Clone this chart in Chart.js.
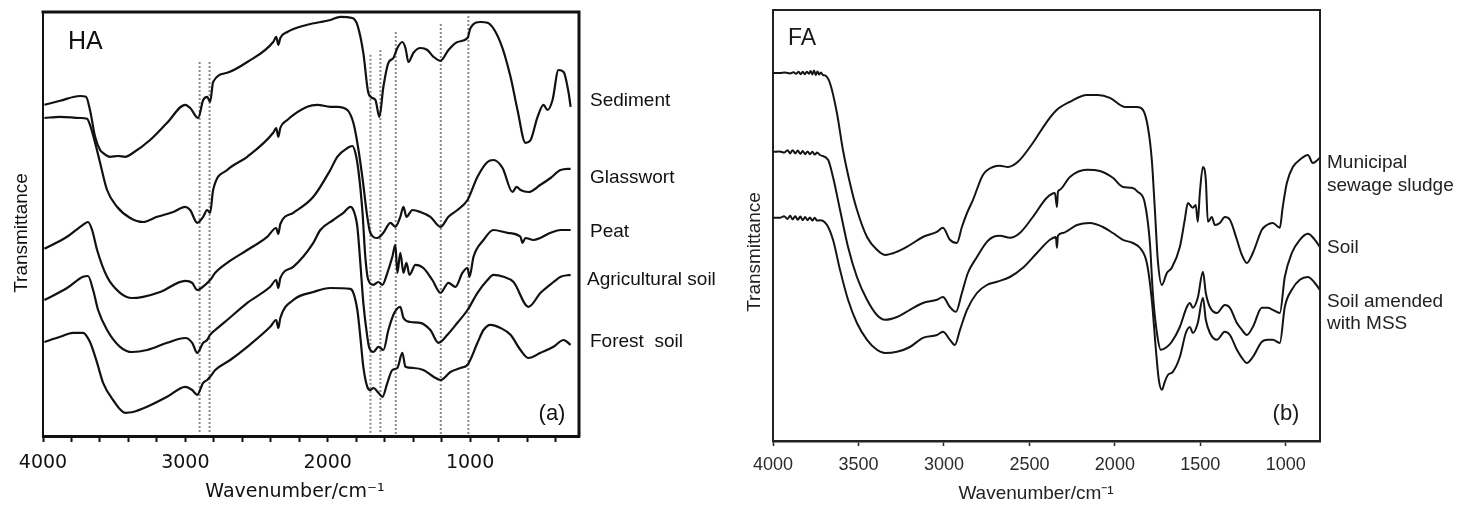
<!DOCTYPE html>
<html>
<head>
<meta charset="utf-8">
<title>FTIR spectra of humic (HA) and fulvic (FA) acids</title>
<script src="https://cdn.jsdelivr.net/npm/chart.js@4.4.1/dist/chart.umd.min.js"></script>
<style>
  html, body { margin: 0; padding: 0; background: #ffffff; }
  #wrap { position: relative; width: 1459px; height: 506px; overflow: hidden; background: #ffffff; }
  canvas { position: absolute; top: 0; }
  #haChart { left: 0; }
  #faChart { left: 730px; }
</style>
</head>
<body>
<div id="wrap">
  <canvas id="haChart" width="730" height="506"></canvas>
  <canvas id="faChart" width="729" height="506"></canvas>
</div>
<script>
// ---- Humic acids (HA): [wavenumber cm-1, offset transmittance (arb. units)] ----
const haSediment = [
  [3990,82.8],[3880,83.8],[3740,85.0],[3698,84.8],[3670,81.5],[3634,74.8],[3599,71.5],[3578,70.8],
  [3529,69.8],[3473,70.0],[3423,69.8],[3367,70.8],[3248,74.0],[3128,78.3],[3001,82.8],[2966,82.0],
  [2910,79.5],[2875,84.0],[2847,84.8],[2826,83.5],[2805,88.5],[2706,90.8],[2565,93.5],[2383,98.5],
  [2362,99.8],[2347,97.8],[2333,99.5],[2284,101.0],[2144,102.8],[1982,104.0],[1912,104.8],[1827,104.5],
  [1792,102.8],[1750,95.8],[1715,85.8],[1686,84.5],[1665,84.0],[1637,79.8],[1609,87.3],[1574,93.3],
  [1539,94.5],[1511,97.0],[1476,98.5],[1454,97.0],[1433,93.5],[1398,95.8],[1349,97.0],[1300,96.5],
  [1257,94.8],[1208,93.8],[1152,96.5],[1089,98.5],[1018,99.5],[997,102.0],[927,103.5],[878,103.3],
  [786,98.3],[716,89.8],[667,81.5],[611,73.3],[575,74.0],[526,79.8],[484,82.8],[456,81.5],
  [421,84.0],[379,91.5],[343,91.0],[308,85.8],[294,82.3]
];
const haGlasswort = [
  [3990,79.5],[3880,79.8],[3740,79.5],[3691,79.3],[3670,77.8],[3634,73.3],[3599,68.3],[3550,61.5],
  [3480,57.3],[3388,54.5],[3297,53.5],[3198,54.8],[3086,56.0],[3001,57.3],[2966,56.5],[2917,53.3],
  [2875,54.8],[2847,56.5],[2826,55.8],[2805,61.5],[2706,66.5],[2565,69.8],[2383,75.8],[2362,77.0],
  [2347,74.8],[2333,77.0],[2284,79.0],[2144,82.3],[2073,82.8],[1982,82.3],[1933,82.3],[1862,81.5],
  [1820,78.3],[1792,73.3],[1757,64.8],[1722,54.8],[1701,50.8],[1651,49.5],[1609,50.8],[1560,53.3],
  [1525,52.3],[1490,54.8],[1468,57.3],[1447,54.8],[1405,56.5],[1349,56.0],[1279,54.8],[1208,52.3],
  [1152,54.8],[1089,56.5],[1018,59.0],[948,64.8],[878,68.5],[836,69.0],[772,67.0],[702,61.0],
  [674,62.3],[646,61.5],[590,61.0],[505,62.8],[435,64.5],[364,66.5],[294,66.8]
];
const haPeat = [
  [3990,46.8],[3831,49.8],[3719,52.8],[3684,53.5],[3655,51.5],[3620,46.5],[3550,39.8],[3459,35.8],
  [3374,34.5],[3297,34.8],[3177,36.0],[3001,38.8],[2952,38.3],[2917,36.5],[2861,37.8],[2826,39.0],
  [2790,40.8],[2706,43.3],[2565,46.5],[2425,49.8],[2362,52.0],[2347,50.5],[2333,53.0],[2242,55.8],
  [2101,59.8],[1982,66.5],[1933,69.8],[1862,72.0],[1827,72.5],[1806,70.8],[1785,66.5],[1757,56.5],
  [1736,44.8],[1715,39.0],[1679,37.8],[1644,38.5],[1616,37.8],[1581,40.8],[1546,44.8],[1525,47.8],
  [1511,40.8],[1490,45.8],[1468,40.8],[1447,43.3],[1426,40.3],[1384,42.8],[1328,42.0],[1265,39.0],
  [1208,35.8],[1152,38.3],[1103,37.3],[1054,40.8],[1018,42.0],[1004,39.8],[976,44.8],[906,49.0],
  [836,51.5],[737,50.8],[646,49.8],[632,48.3],[611,49.5],[554,49.0],[435,50.8],[364,51.5],[294,51.5]
];
const haAgricultural = [
  [3990,34.0],[3831,37.0],[3719,39.8],[3684,40.0],[3648,36.5],[3613,31.5],[3550,26.5],[3459,22.3],
  [3374,21.0],[3269,21.5],[3128,23.3],[3001,24.5],[2952,23.3],[2917,20.8],[2875,23.3],[2847,24.0],
  [2826,25.3],[2790,26.5],[2706,29.0],[2565,33.3],[2404,37.3],[2362,39.0],[2347,37.0],[2333,39.5],
  [2242,42.3],[2101,48.3],[2052,51.5],[1961,54.0],[1890,55.8],[1841,57.3],[1820,56.5],[1792,52.3],
  [1771,43.3],[1750,33.3],[1722,24.8],[1708,22.0],[1679,21.0],[1644,22.3],[1609,21.5],[1574,26.5],
  [1532,30.8],[1490,32.3],[1468,29.5],[1419,28.5],[1349,28.3],[1279,26.5],[1222,23.3],[1159,25.3],
  [1089,28.3],[1018,31.5],[948,35.8],[878,39.0],[836,40.3],[765,39.8],[695,38.5],[590,32.3],
  [505,35.8],[414,38.5],[364,39.8],[294,40.3]
];
const haForest = [
  [3990,23.5],[3880,24.8],[3789,25.8],[3719,25.8],[3670,23.5],[3620,18.3],[3578,13.3],[3508,9.0],
  [3423,5.8],[3367,6.0],[3269,7.3],[3128,9.8],[3001,12.3],[2952,11.5],[2917,10.3],[2875,13.3],
  [2847,14.0],[2826,14.8],[2790,16.5],[2685,19.0],[2565,22.3],[2404,27.3],[2362,29.0],[2347,27.0],
  [2333,29.5],[2242,34.0],[2101,36.0],[1982,37.0],[1841,36.8],[1820,35.8],[1792,31.5],[1771,24.8],
  [1750,17.3],[1722,12.3],[1701,11.5],[1679,12.0],[1644,10.8],[1616,9.8],[1581,13.3],[1546,16.5],
  [1511,17.0],[1476,20.8],[1454,17.3],[1398,17.0],[1328,16.5],[1257,14.8],[1208,14.0],[1138,16.0],
  [1068,17.0],[1018,17.8],[948,23.3],[906,26.5],[857,27.8],[786,27.0],[716,25.3],[646,21.5],
  [590,19.5],[505,20.8],[414,22.3],[343,24.0],[294,22.8]
];
// band markers (dotted guides) and the height each one starts from
const haMarkerWavenumbers = [2900, 2830, 1700, 1630, 1522, 1206, 1012];
const haMarkerTops = [93.5, 93.5, 95.3, 96.5, 101.0, 103.0, 105.0];
const haTickValues = [4000,3800,3600,3400,3200,3000,2800,2600,2400,2200,2000,1800,1600,1400,1200,1000,800,600,400];
const haTickLabels = [4000, 3000, 2000, 1000];
const haSeriesNames = ['Sediment', 'Glasswort', 'Peat', 'Agricultural soil', 'Forest  soil'];

// ---- Fulvic acids (FA): [wavenumber cm-1, offset transmittance (arb. units)] ----
const faSludge = [
  [4000,92.0],[3960,92.0],[3930,92.1],[3900,91.9],[3880,92.2],[3865,91.8],[3850,92.3],[3838,91.7],
  [3826,92.3],[3814,91.7],[3802,92.3],[3790,91.8],[3780,92.5],[3770,91.6],[3760,92.6],[3750,91.5],
  [3740,92.4],[3730,91.6],[3720,92.1],[3708,91.5],[3696,91.4],
  [3667,89.5],[3626,82.0],[3591,72.8],[3550,64.5],[3509,57.8],[3450,51.0],[3392,47.8],[3345,46.5],
  [3275,47.3],[3199,49.0],[3123,51.0],[3041,52.3],[3006,53.3],[2965,50.3],[2924,49.5],[2895,53.5],
  [2865,57.0],[2830,60.3],[2772,66.5],[2713,68.5],[2672,68.8],[2626,68.5],[2567,69.8],[2480,74.5],
  [2398,79.8],[2339,82.8],[2263,84.8],[2164,86.5],[2099,86.5],[2029,85.8],[1942,83.5],[1871,83.5],
  [1836,82.8],[1807,78.5],[1784,70.3],[1766,57.8],[1749,45.3],[1725,39.0],[1696,42.0],[1667,43.3],
  [1620,48.5],[1591,55.3],[1573,59.5],[1544,58.3],[1527,59.0],[1515,54.8],[1503,62.0],[1485,68.5],
  [1468,65.3],[1456,54.8],[1433,56.0],[1415,54.0],[1386,54.5],[1357,56.0],[1327,55.3],[1286,50.3],
  [1257,46.5],[1228,44.5],[1193,47.0],[1140,52.8],[1111,54.0],[1076,54.5],[1035,53.3],[1018,58.5],
  [994,64.5],[959,68.5],[918,70.3],[871,71.5],[842,69.5],[813,70.3],[801,70.8]
];
const faSoil = [
  [4000,72.3],[3960,72.4],[3935,72.1],[3915,72.7],[3900,71.9],[3885,72.7],[3870,71.9],[3855,72.6],
  [3840,71.8],[3826,72.5],[3812,71.7],[3798,72.4],[3784,71.7],[3770,72.3],[3756,71.6],[3742,72.1],
  [3725,71.5],[3678,70.3],[3649,66.0],
  [3608,57.8],[3561,48.5],[3509,41.0],[3450,35.3],[3392,31.5],[3345,30.3],[3275,31.0],[3199,32.8],
  [3123,34.5],[3041,35.3],[3006,36.0],[2965,33.5],[2930,32.3],[2895,37.0],[2860,42.0],[2807,46.0],
  [2749,49.8],[2713,51.0],[2672,51.3],[2614,50.8],[2556,52.0],[2480,56.0],[2398,60.8],[2351,62.0],
  [2339,58.5],[2333,62.3],[2322,62.8],[2263,66.0],[2164,67.8],[2088,67.5],[2012,65.8],[1953,63.5],
  [1901,63.3],[1866,62.3],[1825,59.5],[1795,49.5],[1778,37.0],[1754,27.0],[1731,22.8],[1696,23.5],
  [1667,24.8],[1620,28.5],[1579,33.5],[1561,34.5],[1544,33.3],[1515,35.8],[1485,42.3],[1468,37.0],
  [1444,33.5],[1403,32.0],[1357,34.0],[1327,33.3],[1286,29.5],[1257,27.8],[1228,26.5],[1193,28.5],
  [1140,33.3],[1105,33.3],[1076,32.8],[1035,32.0],[1006,41.0],[965,47.0],[918,50.3],[871,51.8],
  [830,50.3],[801,48.5]
];
const faAmended = [
  [4000,55.8],[3960,55.8],[3935,56.2],[3915,55.5],[3900,56.3],[3885,55.4],[3870,56.2],[3855,55.3],
  [3840,56.1],[3826,55.2],[3812,56.0],[3798,55.2],[3784,55.9],[3770,55.1],[3756,55.8],[3742,55.1],
  [3725,55.2],[3684,54.0],[3649,50.3],
  [3608,42.8],[3561,35.3],[3509,29.5],[3450,25.3],[3392,22.8],[3345,22.0],[3275,22.3],[3199,23.5],
  [3123,25.8],[3041,26.5],[3006,27.3],[2965,25.3],[2936,24.0],[2906,27.8],[2865,32.8],[2807,37.0],
  [2749,39.0],[2690,39.8],[2614,41.0],[2538,43.3],[2456,47.0],[2380,50.3],[2345,51.0],[2339,48.3],
  [2333,51.3],[2304,52.0],[2222,54.0],[2146,54.5],[2070,53.5],[2012,52.0],[1953,50.3],[1895,49.5],
  [1854,48.3],[1813,44.5],[1784,35.3],[1760,22.8],[1743,15.3],[1725,12.8],[1708,14.8],[1690,16.5],
  [1661,17.3],[1620,21.0],[1585,27.0],[1561,28.5],[1544,27.0],[1515,29.5],[1485,35.8],[1468,30.3],
  [1444,27.0],[1403,25.3],[1357,27.3],[1327,26.5],[1286,22.8],[1257,20.8],[1228,19.5],[1193,21.0],
  [1140,24.8],[1105,25.3],[1076,25.3],[1035,24.5],[1006,33.5],[965,37.8],[918,40.3],[871,41.0],
  [830,39.5],[801,37.8]
];
const faTickValues = [4000, 3500, 3000, 2500, 2000, 1500, 1000];
const faSeriesNames = [['Municipal', 'sewage sludge'], ['Soil'], ['Soil amended', 'with MSS']];

// ---- helpers ----
const toXY = pts => pts.map(([x, y]) => ({ x, y }));

function spectrum(label, pts, width, color) {
  return {
    label,
    data: toXY(pts),
    borderColor: color,
    borderWidth: width,
    pointRadius: 0,
    fill: false,
    cubicInterpolationMode: 'monotone',
    order: 0
  };
}

// draws the top and right edges of the frame around the plot area
function framePlugin(width, color) {
  return {
    id: 'panelFrame',
    afterDraw(chart) {
      const { ctx, chartArea: a } = chart;
      ctx.save();
      ctx.strokeStyle = color;
      ctx.lineWidth = width;
      ctx.lineCap = 'square';
      ctx.beginPath();
      ctx.moveTo(a.left, a.top);
      ctx.lineTo(a.right, a.top);
      ctx.lineTo(a.right, a.bottom);
      ctx.stroke();
      ctx.restore();
    }
  };
}

// panel captions, axis titles and curve names
function textPlugin(items) {
  return {
    id: 'panelText',
    afterDraw(chart) {
      const ctx = chart.ctx;
      items.forEach(t => {
        ctx.save();
        ctx.font = t.font;
        ctx.fillStyle = t.color || '#111';
        ctx.textAlign = t.align || 'left';
        ctx.textBaseline = t.baseline || 'alphabetic';
        ctx.translate(t.x, t.y);
        if (t.rotate) ctx.rotate(t.rotate);
        ctx.fillText(t.text, 0, 0);
        ctx.restore();
      });
    }
  };
}

const LIB = '"Liberation Sans", Arial, sans-serif';
const DEJ = '"DejaVu Sans", sans-serif';

// ---- HA panel ----
const haCurves = [haSediment, haGlasswort, haPeat, haAgricultural, haForest];
const haDatasets = haCurves.map((c, i) => spectrum(haSeriesNames[i], c, 2.2, '#111'));
haMarkerWavenumbers.forEach((wn, i) => {
  haDatasets.push({
    label: 'band ' + wn,
    data: [{ x: wn, y: haMarkerTops[i] }, { x: wn, y: 0.5 }],
    borderColor: '#8a8a8a',
    borderWidth: 2,
    borderDash: [2, 2],
    pointRadius: 0,
    order: 1
  });
});

const haLabelY = [106, 183, 237, 285, 347];
const haLabelX = [590, 590, 590, 587, 590];
const haTexts = [
  { text: 'HA', x: 68, y: 49, font: '25px ' + LIB },
  { text: '(a)', x: 552, y: 414, font: '22px ' + LIB, align: 'center', baseline: 'middle' },
  { text: 'Transmittance', x: 22, y: 233, font: '19px ' + LIB, align: 'center', baseline: 'middle', rotate: -Math.PI / 2 },
  { text: 'Wavenumber/cm\u207B\u00B9', x: 295, y: 492, font: '19px ' + DEJ, align: 'center', baseline: 'middle' }
].concat(haSeriesNames.map((n, i) => ({ text: n, x: haLabelX[i], y: haLabelY[i], font: '19px ' + LIB })));

new Chart(document.getElementById('haChart'), {
  type: 'line',
  data: { datasets: haDatasets },
  options: {
    responsive: false,
    animation: false,
    events: [],
    devicePixelRatio: 1,
    layout: { padding: { left: 0, right: 151, top: 12, bottom: 0 } },
    plugins: { legend: { display: false }, tooltip: { enabled: false } },
    scales: {
      x: {
        type: 'linear',
        reverse: true,
        min: 235,
        max: 4000,
        bounds: 'data',
        afterBuildTicks: s => { s.ticks = haTickValues.map(v => ({ value: v })); },
        afterFit: s => { s.height = 70; },
        ticks: {
          autoSkip: false,
          maxRotation: 0,
          padding: 10,
          color: '#111',
          font: { family: '"DejaVu Sans"', size: 19 },
          callback: v => haTickLabels.includes(v) ? String(v) : ''
        },
        grid: { display: true, drawOnChartArea: false, drawTicks: true, tickLength: 6, tickWidth: 2, tickColor: '#111' },
        border: { display: true, width: 3, color: '#111' }
      },
      y: {
        type: 'linear',
        min: 0,
        max: 106,
        afterFit: s => { s.width = 43; },
        ticks: { display: false },
        grid: { display: false },
        border: { display: true, width: 2, color: '#111' }
      }
    }
  },
  plugins: [framePlugin(3, '#111'), textPlugin(haTexts)]
});

// ---- FA panel ----
const faCurves = [faSludge, faSoil, faAmended];
const faDatasets = faCurves.map((c, i) => spectrum(faSeriesNames[i].join(' '), c, 2, '#141414'));

const faLabelLines = [[168, 191], [253], [307, 329]];
const faTexts = [
  { text: 'FA', x: 58, y: 45, font: '23px ' + LIB, color: '#1a1a1a' },
  { text: '(b)', x: 556, y: 414, font: '22px ' + LIB, align: 'center', baseline: 'middle', color: '#1a1a1a' },
  { text: 'Transmittance', x: 25, y: 252, font: '19px ' + LIB, align: 'center', baseline: 'middle', rotate: -Math.PI / 2, color: '#222' },
  { text: 'Wavenumber/cm\u207B\u00B9', x: 306, y: 494, font: '19px ' + LIB, align: 'center', baseline: 'middle', color: '#222' }
];
faSeriesNames.forEach((lines, i) => {
  lines.forEach((line, j) => {
    faTexts.push({ text: line, x: 597, y: faLabelLines[i][j], font: '19px ' + LIB, color: '#222' });
  });
});

new Chart(document.getElementById('faChart'), {
  type: 'line',
  data: { datasets: faDatasets },
  options: {
    responsive: false,
    animation: false,
    events: [],
    devicePixelRatio: 1,
    layout: { padding: { left: 0, right: 139, top: 10, bottom: 0 } },
    plugins: { legend: { display: false }, tooltip: { enabled: false } },
    scales: {
      x: {
        type: 'linear',
        reverse: true,
        min: 800,
        max: 4000,
        bounds: 'data',
        afterBuildTicks: s => { s.ticks = faTickValues.map(v => ({ value: v })); },
        afterFit: s => { s.height = 65; },
        ticks: {
          autoSkip: false,
          maxRotation: 0,
          padding: 8,
          color: '#2a2a2a',
          font: { family: '"Liberation Sans"', size: 18 },
          callback: v => String(v)
        },
        grid: { display: true, drawOnChartArea: false, drawTicks: true, tickLength: 5, tickWidth: 1.5, tickColor: '#222' },
        border: { display: true, width: 2.5, color: '#222' }
      },
      y: {
        type: 'linear',
        min: 0,
        max: 107.75,
        afterFit: s => { s.width = 43; },
        ticks: { display: false },
        grid: { display: false },
        border: { display: true, width: 2, color: '#222' }
      }
    }
  },
  plugins: [framePlugin(2, '#222'), textPlugin(faTexts)]
});
</script>
</body>
</html>
